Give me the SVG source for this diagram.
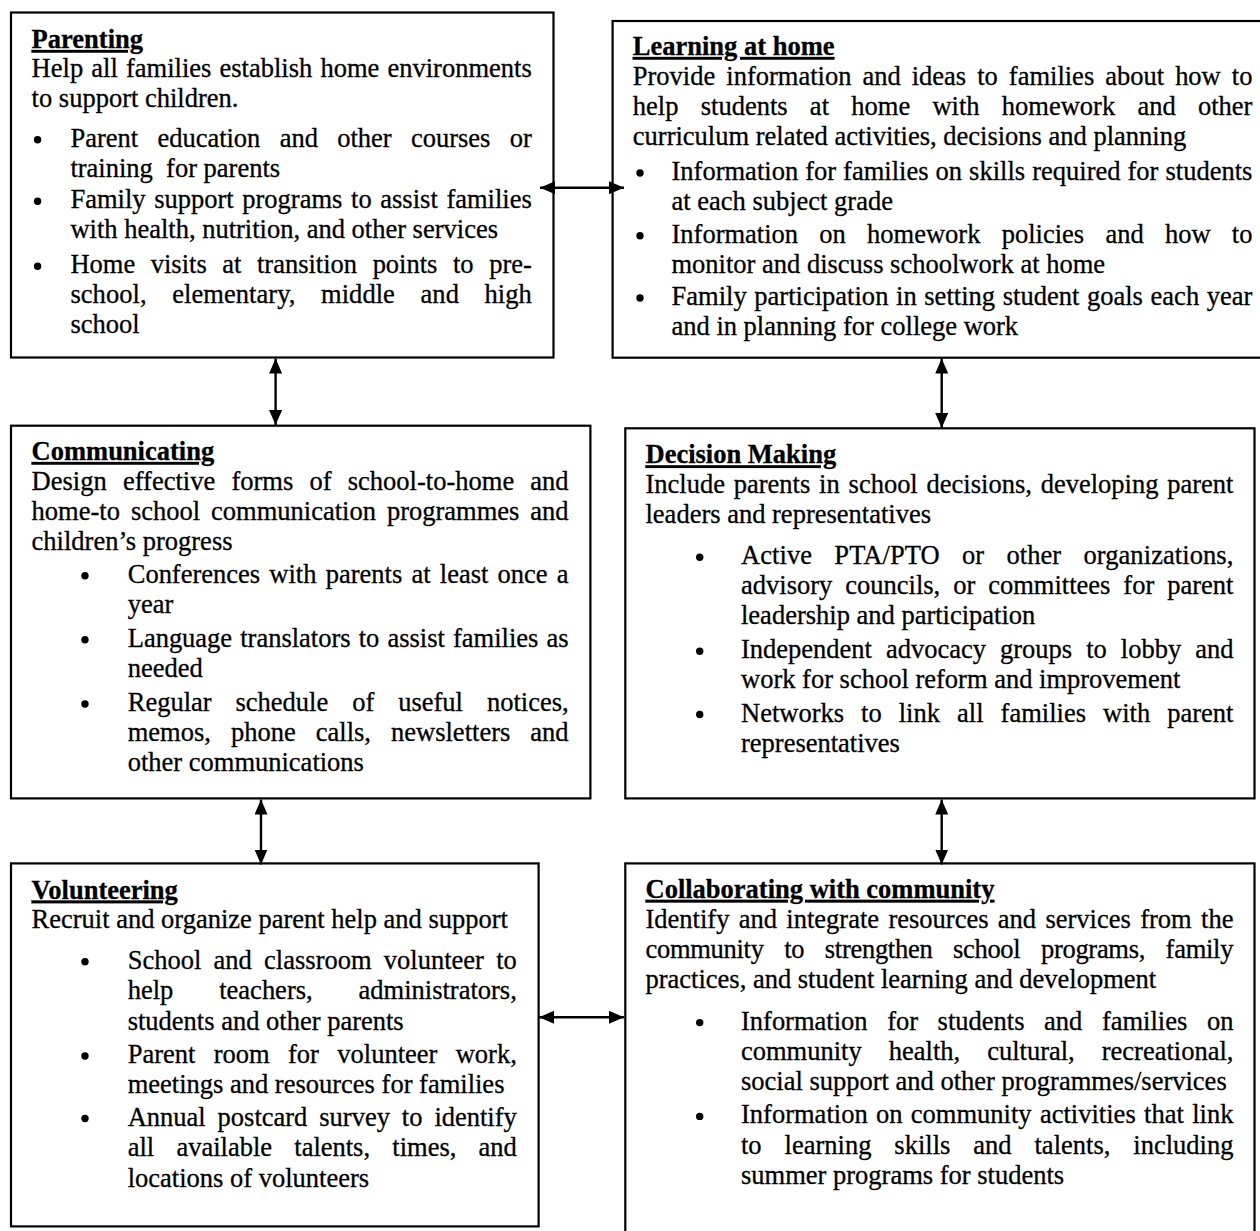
<svg xmlns="http://www.w3.org/2000/svg" width="1260" height="1231" viewBox="0 0 1260 1231">
<style>
.box{fill:#fff;stroke:#000;stroke-width:2.2}
.t{font-family:"Liberation Serif","Times New Roman",serif;font-size:26.5px;fill:#000;stroke:#000;stroke-width:0.3px}
.h{font-weight:bold;text-decoration:underline}
.b{fill:#000}
.con{stroke:#000;stroke-width:2.4;fill:none;marker-start:url(#ah);marker-end:url(#ah)}
</style>
<defs>
<marker id="ah" viewBox="0 0 15 13" refX="15" refY="6.5" markerWidth="15" markerHeight="13" markerUnits="userSpaceOnUse" orient="auto-start-reverse">
<path d="M0,0 L15,6.5 L0,13 z" fill="#000"/>
</marker>
</defs>
<rect width="1260" height="1231" fill="#fff"/>

<g id="parenting">
<rect class="box" x="11" y="12.5" width="542.5" height="345"/>
<text class="t h" x="31.6" y="48">Parenting</text>
<text class="t" x="31.6" y="77.3" textLength="500.2" lengthAdjust="spacing" style="word-spacing:1.5px">Help all families establish home environments</text>
<text class="t" x="31.6" y="107">to support children.</text>
<circle class="b" cx="37.6" cy="139.7" r="3.7"/>
<text class="t" x="70.4" y="146.7" textLength="461.4" lengthAdjust="spacing" style="word-spacing:12.7px">Parent education and other courses or</text>
<text class="t" x="70.4" y="176.7" style="white-space:pre">training  for parents</text>
<circle class="b" cx="37.6" cy="201.3" r="3.7"/>
<text class="t" x="70.4" y="208.3" textLength="461.4" lengthAdjust="spacing" style="word-spacing:2px">Family support programs to assist families</text>
<text class="t" x="70.4" y="238.3">with health, nutrition, and other services</text>
<circle class="b" cx="37.6" cy="266.3" r="3.7"/>
<text class="t" x="70.4" y="273.3" textLength="461.4" lengthAdjust="spacing" style="word-spacing:8.9px">Home visits at transition points to pre-</text>
<text class="t" x="70.4" y="303.3" textLength="461.4" lengthAdjust="spacing" style="word-spacing:18.9px">school, elementary, middle and high</text>
<text class="t" x="70.4" y="333.3">school</text>
</g>

<g id="learning">
<rect class="box" x="612.6" y="21" width="650" height="336.7"/>
<text class="t h" x="632.8" y="55">Learning at home</text>
<text class="t" x="632.8" y="85" textLength="619.6" lengthAdjust="spacing" style="word-spacing:4.4px">Provide information and ideas to families about how to</text>
<text class="t" x="632.8" y="115" textLength="619.6" lengthAdjust="spacing" style="word-spacing:15.6px">help students at home with homework and other</text>
<text class="t" x="632.8" y="145">curriculum related activities, decisions and planning</text>
<circle class="b" cx="640" cy="173" r="3.7"/>
<text class="t" x="671.5" y="180" textLength="580.9" lengthAdjust="spacing" style="word-spacing:0.4px">Information for families on skills required for students</text>
<text class="t" x="671.5" y="210">at each subject grade</text>
<circle class="b" cx="640" cy="235.7" r="3.7"/>
<text class="t" x="671.5" y="242.7" textLength="580.9" lengthAdjust="spacing" style="word-spacing:14.6px">Information on homework policies and how to</text>
<text class="t" x="671.5" y="272.7">monitor and discuss schoolwork at home</text>
<circle class="b" cx="640" cy="298" r="3.7"/>
<text class="t" x="671.5" y="305" textLength="580.9" lengthAdjust="spacing" style="word-spacing:1px">Family participation in setting student goals each year</text>
<text class="t" x="671.5" y="335">and in planning for college work</text>
</g>

<g id="communicating">
<rect class="box" x="11" y="425.7" width="579.4" height="372.7"/>
<text class="t h" x="31.6" y="460">Communicating</text>
<text class="t" x="31.6" y="490" textLength="537" lengthAdjust="spacing" style="word-spacing:9.5px">Design effective forms of school-to-home and</text>
<text class="t" x="31.6" y="520" textLength="537" lengthAdjust="spacing" style="word-spacing:4.3px">home-to school communication programmes and</text>
<text class="t" x="31.6" y="550">children’s progress</text>
<circle class="b" cx="85" cy="575.7" r="3.7"/>
<text class="t" x="127.7" y="582.7" textLength="440.9" lengthAdjust="spacing" style="word-spacing:2.6px">Conferences with parents at least once a</text>
<text class="t" x="127.7" y="612.7">year</text>
<circle class="b" cx="85" cy="639.7" r="3.7"/>
<text class="t" x="127.7" y="646.7" textLength="440.9" lengthAdjust="spacing" style="word-spacing:1.5px">Language translators to assist families as</text>
<text class="t" x="127.7" y="676.7">needed</text>
<circle class="b" cx="85" cy="704" r="3.7"/>
<text class="t" x="127.7" y="711" textLength="440.9" lengthAdjust="spacing" style="word-spacing:17.3px">Regular schedule of useful notices,</text>
<text class="t" x="127.7" y="741" textLength="440.9" lengthAdjust="spacing" style="word-spacing:13.4px">memos, phone calls, newsletters and</text>
<text class="t" x="127.7" y="771">other communications</text>
</g>

<g id="decision-making">
<rect class="box" x="625.3" y="428.3" width="629.2" height="370.1"/>
<text class="t h" x="645.5" y="463.3">Decision Making</text>
<text class="t" x="645.5" y="493.3" textLength="587.9" lengthAdjust="spacing" style="word-spacing:2.2px">Include parents in school decisions, developing parent</text>
<text class="t" x="645.5" y="522.7">leaders and representatives</text>
<circle class="b" cx="699.7" cy="557.3" r="3.7"/>
<text class="t" x="741" y="564.3" textLength="492.4" lengthAdjust="spacing" style="word-spacing:15.5px">Active PTA/PTO or other organizations,</text>
<text class="t" x="741" y="594.3" textLength="492.4" lengthAdjust="spacing" style="word-spacing:6.3px">advisory councils, or committees for parent</text>
<text class="t" x="741" y="624.3">leadership and participation</text>
<circle class="b" cx="699.7" cy="651.3" r="3.7"/>
<text class="t" x="741" y="658.3" textLength="492.4" lengthAdjust="spacing" style="word-spacing:7.4px">Independent advocacy groups to lobby and</text>
<text class="t" x="741" y="688.3">work for school reform and improvement</text>
<circle class="b" cx="699.7" cy="714.5" r="3.7"/>
<text class="t" x="741" y="721.5" textLength="492.4" lengthAdjust="spacing" style="word-spacing:10.4px">Networks to link all families with parent</text>
<text class="t" x="741" y="751.5">representatives</text>
</g>

<g id="volunteering">
<rect class="box" x="11" y="863.4" width="527.6" height="363"/>
<text class="t h" x="31.6" y="898.5">Volunteering</text>
<text class="t" x="31.6" y="927.7">Recruit and organize parent help and support</text>
<circle class="b" cx="85" cy="961.8" r="3.7"/>
<text class="t" x="127.7" y="968.8" textLength="389.1" lengthAdjust="spacing" style="word-spacing:5.6px">School and classroom volunteer to</text>
<text class="t" x="127.7" y="999" textLength="389.1" lengthAdjust="spacing" style="word-spacing:39.3px">help teachers, administrators,</text>
<text class="t" x="127.7" y="1029.6">students and other parents</text>
<circle class="b" cx="85" cy="1056" r="3.7"/>
<text class="t" x="127.7" y="1063" textLength="389.1" lengthAdjust="spacing" style="word-spacing:11.7px">Parent room for volunteer work,</text>
<text class="t" x="127.7" y="1093">meetings and resources for families</text>
<circle class="b" cx="85" cy="1118.5" r="3.7"/>
<text class="t" x="127.7" y="1125.5" textLength="389.1" lengthAdjust="spacing" style="word-spacing:5.3px">Annual postcard survey to identify</text>
<text class="t" x="127.7" y="1156" textLength="389.1" lengthAdjust="spacing" style="word-spacing:15.6px">all available talents, times, and</text>
<text class="t" x="127.7" y="1186.7">locations of volunteers</text>
</g>

<g id="collaborating">
<rect class="box" x="625.3" y="863.4" width="629.2" height="372"/>
<text class="t h" x="645.5" y="897.9">Collaborating with community</text>
<text class="t" x="645.5" y="927.7" textLength="587.9" lengthAdjust="spacing" style="word-spacing:2.7px">Identify and integrate resources and services from the</text>
<text class="t" x="645.5" y="958" textLength="587.9" lengthAdjust="spacing" style="word-spacing:14.2px">community to strengthen school programs, family</text>
<text class="t" x="645.5" y="988">practices, and student learning and development</text>
<circle class="b" cx="699.7" cy="1022.6" r="3.7"/>
<text class="t" x="741" y="1029.6" textLength="492.4" lengthAdjust="spacing" style="word-spacing:13px">Information for students and families on</text>
<text class="t" x="741" y="1060" textLength="492.4" lengthAdjust="spacing" style="word-spacing:20.4px">community health, cultural, recreational,</text>
<text class="t" x="741" y="1090">social support and other programmes/services</text>
<circle class="b" cx="699.7" cy="1116.4" r="3.7"/>
<text class="t" x="741" y="1123.4" textLength="492.4" lengthAdjust="spacing" style="word-spacing:1.7px">Information on community activities that link</text>
<text class="t" x="741" y="1154" textLength="492.4" lengthAdjust="spacing" style="word-spacing:16.3px">to learning skills and talents, including</text>
<text class="t" x="741" y="1184">summer programs for students</text>
</g>

<g id="connectors">
<line class="con" x1="540" y1="187.7" x2="624" y2="187.7"/>
<line class="con" x1="275.6" y1="358.5" x2="275.6" y2="425"/>
<line class="con" x1="941.7" y1="358.5" x2="941.7" y2="428"/>
<line class="con" x1="261" y1="799.5" x2="261" y2="864.5"/>
<line class="con" x1="941.7" y1="799.5" x2="941.7" y2="864.5"/>
<line class="con" x1="539" y1="1017.3" x2="624" y2="1017.3"/>
</g>
</svg>
